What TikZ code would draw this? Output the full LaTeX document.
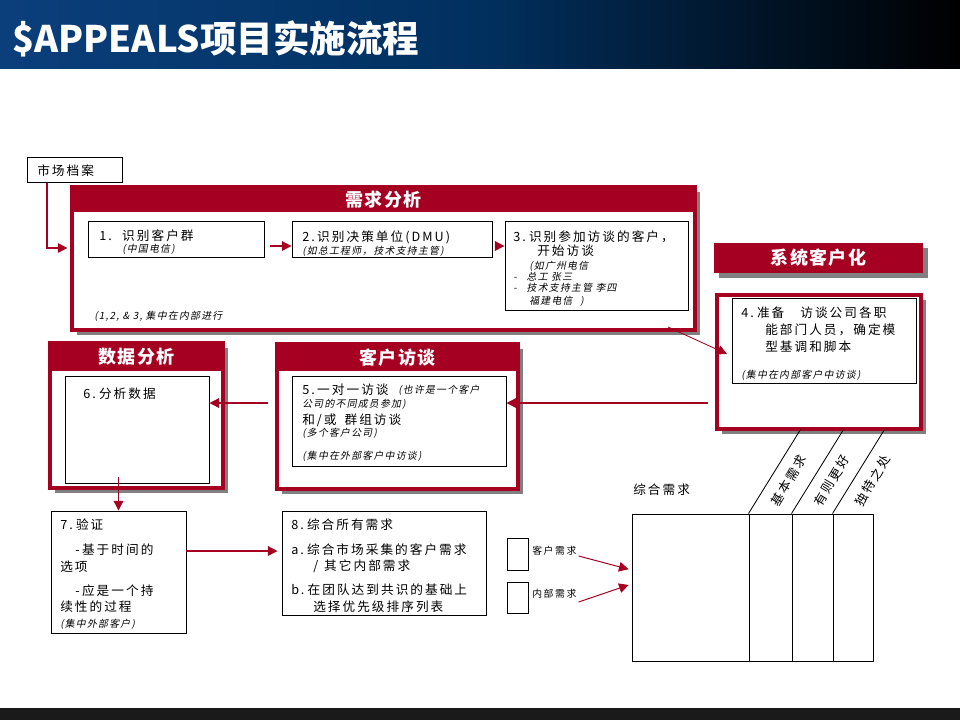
\documentclass[tikz,border=0pt]{standalone}
\usepackage{fontspec}
\setmainfont{Noto Sans CJK SC}
\newfontfamily\bodyfont[LetterSpace=16]{Noto Sans CJK SC}
\newfontfamily\notefont[FakeSlant=0.2,LetterSpace=13]{Noto Sans CJK SC}
\newfontfamily\headfont[LetterSpace=8]{Noto Sans CJK SC}
\usepackage{tikz}
\usetikzlibrary{arrows.meta,fit,shadows}
\definecolor{appred}  {HTML}{A50021}
\definecolor{barblue} {HTML}{0B3F7C}
\definecolor{barmid}  {HTML}{01305F}
\definecolor{footgray}{HTML}{1A1A1A}

\begin{document}
\begin{tikzpicture}[x=0.25mm, y=-0.25mm,
    grayshadow/.style={drop shadow={shadow xshift=1.3mm, shadow yshift=-1.3mm,
                       fill=black!50, opacity=1}},
    redframe/.style={draw=appred, line width=3.2pt, fill=white, inner sep=0pt, grayshadow},
    redband/.style={fill=appred, inner sep=0pt},
    plainbox/.style={draw=black, line width=0.7pt, fill=white, inner sep=0pt},
    bodytxt/.style={anchor=west, inner sep=0pt, font=\bodyfont\fontsize{9}{11}\selectfont},
    notetxt/.style={anchor=west, inner sep=0pt, font=\notefont\fontsize{7}{9}\selectfont},
    smalltxt/.style={anchor=west, inner sep=0pt, font=\bodyfont\fontsize{7}{9}\selectfont},
    headtxt/.style={inner sep=0pt, text=white, font=\headfont\bfseries\fontsize{12.8}{15}\selectfont},
    redarr/.style={draw=appred, line width=0.9pt, -{Triangle[length=2.4mm, width=2.4mm]}}]
  \useasboundingbox (0,0) rectangle (960,720);
  \fill[white] (0,0) rectangle (960,720);

  % title bar and footer
  \shade[left color=barblue, right color=black, middle color=barmid] (0,0) rectangle (960,68);
  \node[anchor=base west, inner sep=0pt, text=white,
        font=\bfseries\fontsize{26}{30}\selectfont] (title) at (12,52) {\$APPEALS项目实施流程};
  \fill[footgray] (0,708) rectangle (960,720);

  % market file
  \node[plainbox, fit={(27,157) (122,182)}] (mkt) {};
  \node[bodytxt] (mkttxt) at (37,171) {市场档案};

  % 1-3
  \node[redframe, fit={(72,187) (695,330)}] (qframe) {};
  \node[redband, fit={(72,187) (695,212)}] (qband) {};
  \node[headtxt] (qtitle) at (qband) {需求分析};
  \node[plainbox, fit={(88,221) (264,257)}] (b1) {};
  \node[plainbox, fit={(292,221) (492,257)}] (b2) {};
  \node[plainbox, fit={(505,221) (688,310)}] (b3) {};
  \foreach \n/\x/\y/\t in {1a/99/236/{1.\hspace{2.6mm}识别客户群},
                           2a/302/237/{2.\hspace{0.6mm}识别决策单位(DMU)},
                           3a/513/237/{3.\hspace{0.8mm}识别参加访谈的客户，},
                           3b/537/251/{开始访谈}}
    {\node[bodytxt] (t\n) at (\x,\y) {\t};}
  \foreach \n/\x/\y/\t in {1b/122/249/{(中国电信)},
                           2b/302/251/{(如总工程师，技术支持主管)},
                           3c/529/266/{(如广州电信},
                           3d/513/277/{-\hspace{2.5mm}总工 张三},
                           3e/513/288/{-\hspace{2.5mm}技术支持主管 李四},
                           3f/529/301/{福建电信\hspace{2mm})},
                           q/94/316/{(1,2, \& 3, 集中在内部进行}}
    {\node[notetxt] (t\n) at (\x,\y) {\t};}

  % 4
  \node[redband, grayshadow, fit={(714,243) (923,273)}] (sband) {};
  \node[headtxt] (stitle) at (sband) {系统客户化};
  \node[redframe, fit={(717,295) (921,429)}] (sframe) {};
  \node[plainbox, fit={(732,298) (916,383)}] (b4) {};
  \foreach \n/\x/\y/\t in {a/741/313/{4.\hspace{0.8mm}准备\hspace{4mm}访谈公司各职},
                           b/765/330/{能部门人员，确定模},
                           c/765/347/{型基调和脚本}}
    {\node[bodytxt] (t4\n) at (\x,\y) {\t};}
  \node[notetxt] (t4d) at (741,375) {(集中在内部客户中访谈)};

  % 5
  \node[redframe, fit={(277,344) (518,489)}] (cframe) {};
  \node[redband, fit={(277,344) (518,371)}] (cband) {};
  \node[headtxt] (ctitle) at (cband) {客户访谈};
  \node[plainbox, fit={(292,376) (506,466)}] (b5) {};
  \node[bodytxt] (t5a) at (302,390) {5.\hspace{0.6mm}一对一访谈};
  \node[bodytxt] (t5d) at (302,420) {和/或\hspace{2mm}群组访谈};
  \foreach \n/\x/\y/\t in {b/398/390/{(也许是一个客户},
                           c/302/404/{公司的不同成员参加)},
                           e/302/433/{(多个客户公司)},
                           f/302/456/{(集中在外部客户中访谈)}}
    {\node[notetxt] (t5\n) at (\x,\y) {\t};}

  % 6
  \node[redframe, fit={(50,343) (223,488)}] (dframe) {};
  \node[redband, fit={(50,343) (223,371)}] (dband) {};
  \node[headtxt] (dtitle) at (dband) {数据分析};
  \node[plainbox, fit={(65,376) (209,483)}] (b6) {};
  \node[bodytxt] (t6a) at (83,394) {6.\hspace{0.8mm}分析数据};

  % 7 and 8
  \node[plainbox, fit={(51,511) (186,633)}] (b7) {};
  \node[plainbox, fit={(282,511) (486,615)}] (b8) {};
  \foreach \n/\x/\y/\t in {7a/60/525/{7.\hspace{0.8mm}验证},
                           7b/75/550/{-\hspace{0.6mm}基于时间的},
                           7c/60/567/{选项},
                           7d/75/591/{-\hspace{0.6mm}应是一个持},
                           7e/60/607/{续性的过程},
                           8a/291/525/{8.\hspace{0.8mm}综合所有需求},
                           8b/291/550/{a.\hspace{0.8mm}综合市场采集的客户需求},
                           8c/313/566/{/\hspace{1.5mm}其它内部需求},
                           8d/291/590/{b.\hspace{0.8mm}在团队达到共识的基础上},
                           8e/313/607/{选择优先级排序列表}}
    {\node[bodytxt] (t\n) at (\x,\y) {\t};}
  \node[notetxt] (t7f) at (60,624) {(集中外部客户)};

  % requirements
  \node[plainbox, fit={(507,538) (528,570)}] (sa) {};
  \node[plainbox, fit={(507,582) (528,613)}] (sb) {};
  \node[smalltxt] (la) at (532,551) {客户需求};
  \node[smalltxt] (lb) at (532,594) {内部需求};
  \node[bodytxt] (sumlab) at (633,490) {综合需求};
  \node[plainbox, fit={(632,514) (873,661)}] (sumbox) {};
  \node[plainbox, fit={(749,514) (792,661)}] (col1) {};
  \node[plainbox, fit={(792,514) (833,661)}] (col2) {};
  \node[plainbox, fit={(833,514) (873,661)}] (col3) {};
  \foreach \c/\t in {col1/基本需求, col2/有则更好, col3/独特之处}
  {
    \draw[line width=0.6pt] (\c.north west) -- ++(52,-84) coordinate (\c-top);
    \node[bodytxt, anchor=center, rotate=59] (\c-lab) at ([shift={(40,-33)}]\c.north west) {\t};
  }

  % connectors
  \draw[redarr, shorten >=0.6mm] (mkt.south -| 47,0) |- (qframe.west |- 0,248);
  \draw[redarr, shorten <=1.5mm] (b1.east |- 0,246) -- (b2.west |- 0,246);
  \draw[redarr, shorten <=0.7mm] (b2.east |- 0,246) -- (b3.west |- 0,246);
  \coordinate (qout) at (668,327);
  \coordinate (sin) at (727,354);
  \draw[redarr, line width=0.6pt] (qout) -- (sin);
  \draw[redarr, shorten <=1.8mm] (sframe.west |- 0,403) -- (b5.east |- 0,403);
  \draw[redarr, shorten <=1.8mm] (cframe.west |- 0,403) -- (b6.east |- 0,403);
  \draw[redarr] (b7.north |- 0,477) -- (b7.north);
  \draw[redarr, shorten >=1mm] (b7.east |- 0,551) -- (b8.west |- 0,551);
  \draw[redarr, line width=0.7pt, shorten >=0.75mm] ([shift={(2,5)}]la.east) -- (sumbox.west |- 0,570);
  \draw[redarr, line width=0.7pt, shorten >=0.75mm] ([shift={(2,8)}]lb.east) -- (sumbox.west |- 0,584);
\end{tikzpicture}
\end{document}
